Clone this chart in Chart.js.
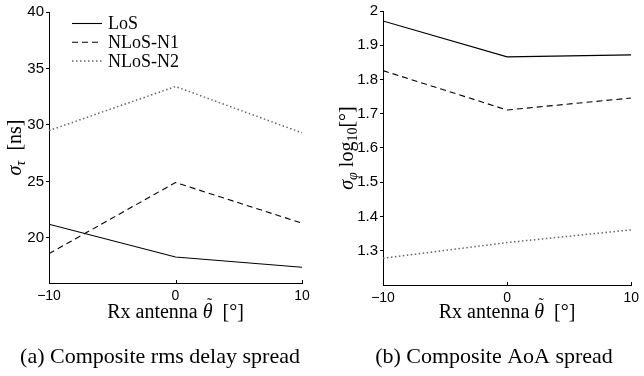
<!DOCTYPE html>
<html>
<head>
<meta charset="utf-8">
<script src="https://cdn.jsdelivr.net/npm/chart.js@4.4.1/dist/chart.umd.min.js"></script>
<style>
  body { margin: 0; background: #fff; }
  #wrap { position: relative; width: 644px; height: 376px; overflow: hidden; }
  canvas { position: absolute; top: 0; }
</style>
</head>
<body>
<div id="wrap">
  <canvas id="delayChart" width="322" height="376" style="left:0"></canvas>
  <canvas id="aoaChart" width="322" height="376" style="left:322px"></canvas>
</div>
<script>
// Rx antenna angle (deg)
var rxAngles = [-10, 0, 10];
var xTicks = [-10, 0, 10];
var seriesNames = ['LoS', 'NLoS-N1', 'NLoS-N2'];

// (a) composite rms delay spread [ns]
var delayLoS = [21.2, 18.3, 17.4];
var delayN1 = [18.6, 24.9, 21.3];
var delayN2 = [29.5, 33.4, 29.3];
var delayTicks = [20, 25, 30, 35, 40];

// (b) composite AoA spread, log10 [deg]
var aoaLoS = [1.971, 1.866, 1.872];
var aoaN1 = [1.826, 1.711, 1.746];
var aoaN2 = [1.278, 1.324, 1.361];
var aoaTicks = [1.3, 1.4, 1.5, 1.6, 1.7, 1.8, 1.9, 2.0];

var serif = '"Liberation Serif", "Times New Roman", serif';
var sans = '"Liberation Sans", Arial, sans-serif';

// line styles for the 3 series
var styles = [
    { color: '#000', width: 1.1, dash: [] },
    { color: '#000', width: 1.1, dash: [6, 4] },
    { color: '#666', width: 1.5, dash: [1.5, 2.5] }
];

function makeDatasets(vals) {
    return vals.map(function (v, i) {
        return {
            label: seriesNames[i],
            data: rxAngles.map(function (x, j) { return { x: x, y: v[j] }; }),
            borderColor: styles[i].color,
            borderWidth: styles[i].width,
            borderDash: styles[i].dash,
            pointRadius: 0,
            tension: 0,
            fill: false
        };
    });
}

// draw text made of pieces (for subscripts, italic etc)
function richWidth(ctx, parts) {
    var w = 0;
    parts.forEach(function (p) { ctx.font = p.font; w += ctx.measureText(p.t).width; });
    return w;
}
function drawRich(ctx, parts, x, y) {
    var w = richWidth(ctx, parts);
    var cx = x - w / 2;
    parts.forEach(function (p) {
        ctx.font = p.font;
        ctx.fillText(p.t, cx, y + (p.dy || 0));
        if (p.tilde) {
            var pw = ctx.measureText(p.t).width;
            ctx.font = '16px ' + serif;
            ctx.textAlign = 'center';
            ctx.fillText('\u02DC', cx + pw / 2 + 2, y - 9);
            ctx.textAlign = 'left';
            ctx.font = p.font;
        }
        cx += ctx.measureText(p.t).width;
    });
}

var xTitle = [
    { t: 'Rx antenna ', font: '20px ' + serif },
    { t: '\u03B8', font: 'italic 20px ' + serif, tilde: true },
    { t: '  [\u00B0]', font: '20px ' + serif }
];

var extras = {
    id: 'extras',
    afterDraw: function (chart, args, opts) {
        var ctx = chart.ctx;
        var area = chart.chartArea;
        var xs = chart.scales.x;
        ctx.save();
        ctx.fillStyle = '#000';
        ctx.textAlign = 'left';
        ctx.textBaseline = 'alphabetic';

        // inward x ticks
        ctx.strokeStyle = '#000';
        ctx.lineWidth = 1;
        xTicks.forEach(function (v) {
            var px = Math.round(xs.getPixelForValue(v)) + 0.5;
            ctx.beginPath();
            ctx.moveTo(px, area.bottom);
            ctx.lineTo(px, area.bottom - 3);
            ctx.stroke();
        });

        // x title
        drawRich(ctx, xTitle, (area.left + area.right) / 2, 318);

        // y title (rotated)
        ctx.save();
        ctx.translate(opts.yTitleX, (area.top + area.bottom) / 2);
        ctx.rotate(-Math.PI / 2);
        drawRich(ctx, opts.yTitle, 0, 0);
        ctx.restore();

        // caption
        ctx.font = '22px ' + serif;
        ctx.textAlign = 'center';
        ctx.fillText(opts.caption, opts.captionX, 363);

        // legend
        if (opts.legend) {
            chart.data.datasets.forEach(function (ds, i) {
                var y = 23.5 + i * 18.7;
                ctx.beginPath();
                ctx.strokeStyle = ds.borderColor;
                ctx.lineWidth = ds.borderWidth;
                ctx.setLineDash(ds.borderDash);
                ctx.moveTo(72, y);
                ctx.lineTo(102, y);
                ctx.stroke();
                ctx.setLineDash([]);
                ctx.font = '18px ' + serif;
                ctx.textAlign = 'left';
                ctx.textBaseline = 'middle';
                ctx.fillText(ds.label, 108, y + 1);
            });
        }
        ctx.restore();
    }
};

function makeChart(id, vals, yMin, yMax, yTicks, yWidth, pad, xHeight, extraOpts) {
    var ctx = document.getElementById(id).getContext('2d');
    return new Chart(ctx, {
        type: 'line',
        data: { datasets: makeDatasets(vals) },
        options: {
            responsive: false,
            animation: false,
            layout: { padding: pad },
            plugins: {
                legend: { display: false },
                tooltip: { enabled: false },
                extras: extraOpts
            },
            scales: {
                x: {
                    type: 'linear',
                    min: -10,
                    max: 10,
                    afterBuildTicks: function (s) { s.ticks = xTicks.map(function (v) { return { value: v }; }); },
                    afterFit: function (s) { s.height = xHeight; },
                    grid: { drawOnChartArea: false, drawTicks: false },
                    border: { display: true, color: '#000', width: 1 },
                    ticks: {
                        autoSkip: false,
                        maxRotation: 0,
                        padding: 5,
                        color: '#000',
                        font: { family: sans, size: 14 },
                        callback: function (v) { return v < 0 ? '\u2212' + Math.abs(v) : String(v); }
                    }
                },
                y: {
                    min: yMin,
                    max: yMax,
                    afterBuildTicks: function (s) { s.ticks = yTicks.map(function (v) { return { value: v }; }); },
                    afterFit: function (s) { s.width = yWidth; },
                    grid: { drawOnChartArea: false, drawTicks: true, tickLength: 3, color: '#000' },
                    border: { display: true, color: '#000', width: 1 },
                    ticks: {
                        autoSkip: false,
                        padding: 2,
                        color: '#000',
                        font: { family: sans, size: 15 },
                        callback: function (v) { return String(Math.round(v * 10) / 10); }
                    }
                }
            }
        },
        plugins: [extras]
    });
}

makeChart('delayChart', [delayLoS, delayN1, delayN2], 16, 40, delayTicks, 49,
    { left: 0, right: 20, top: 12, bottom: 0 }, 93, {
        legend: true,
        yTitleX: 21,
        caption: '(a) Composite rms delay spread',
        captionX: 160,
        yTitle: [
            { t: '\u03C3', font: 'italic 20px ' + serif },
            { t: '\u03C4', font: 'italic 14px ' + serif, dy: 4 },
            { t: '  [ns]', font: '20px ' + serif }
        ]
    });

makeChart('aoaChart', [aoaLoS, aoaN1, aoaN2], 1.2, 2.0, aoaTicks, 61,
    { left: 0, right: 8, top: 10, bottom: 0 }, 91, {
        legend: false,
        yTitleX: 31,
        caption: '(b) Composite AoA spread',
        captionX: 172,
        yTitle: [
            { t: '\u03C3', font: 'italic 20px ' + serif },
            { t: '\u03C6', font: 'italic 14px ' + serif, dy: 4 },
            { t: ' log', font: '20px ' + serif },
            { t: '10', font: '14px ' + serif, dy: 4 },
            { t: '[\u00B0]', font: '20px ' + serif }
        ]
    });
</script>
</body>
</html>
